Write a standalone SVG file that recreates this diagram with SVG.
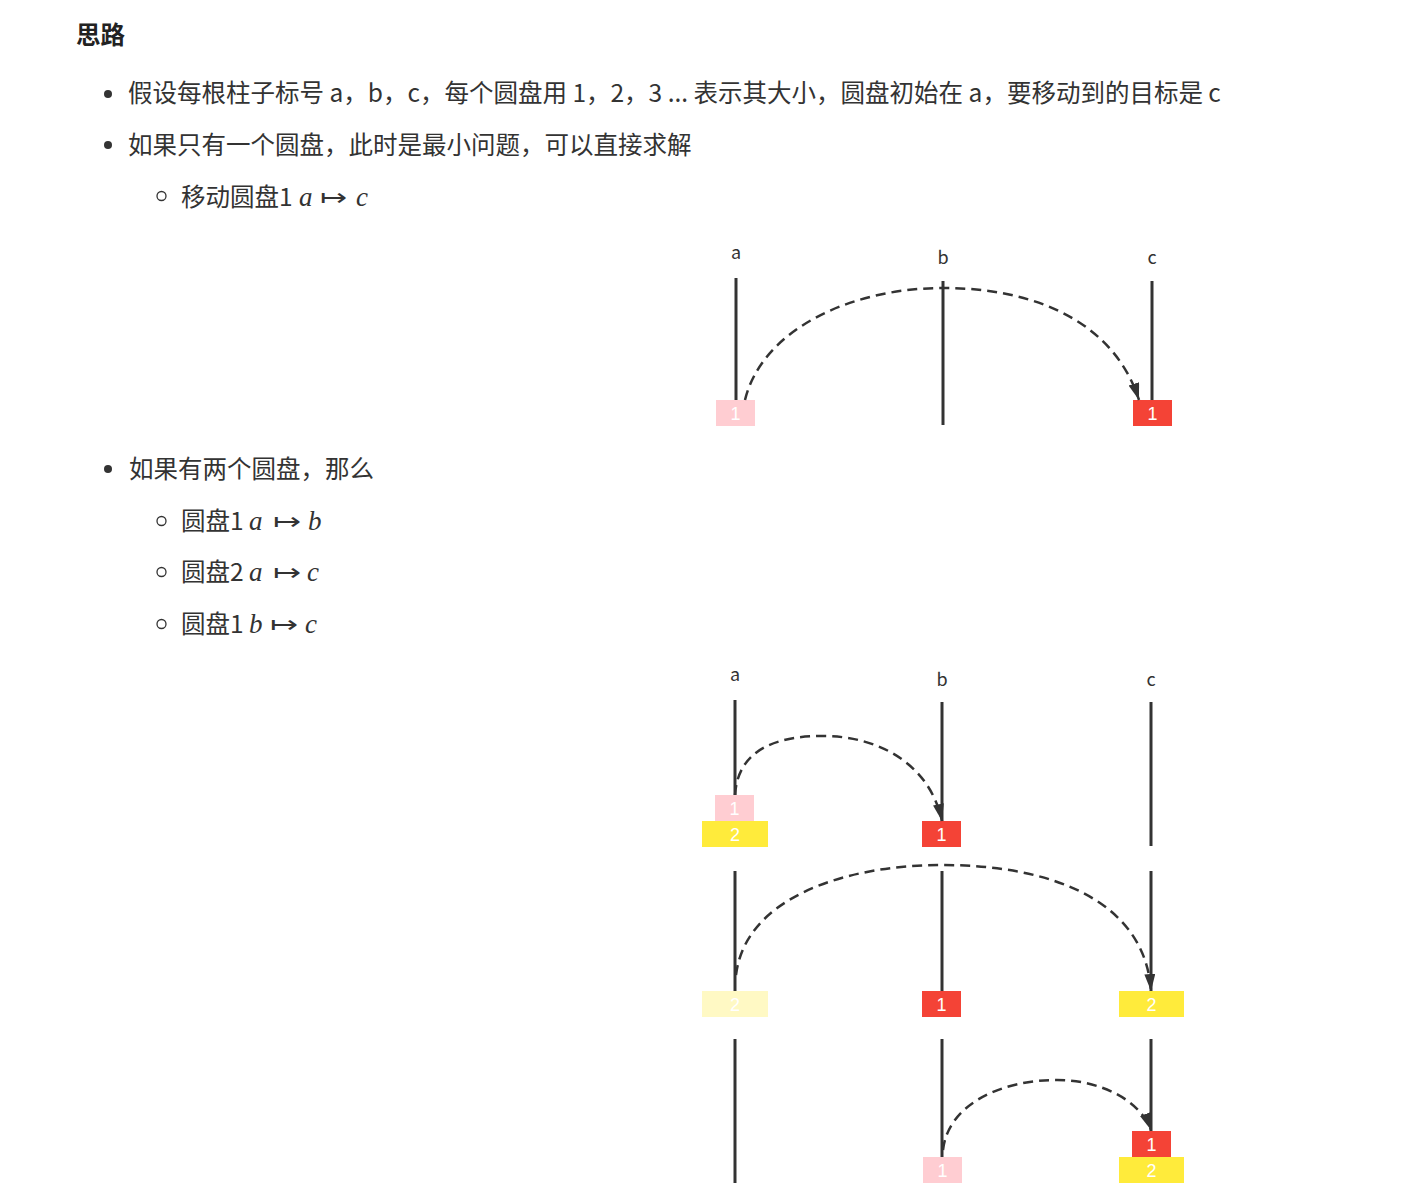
<svg xmlns="http://www.w3.org/2000/svg" width="1403" height="1200" viewBox="0 0 1403 1200">
<style>
.t{font-family:"Noto Sans CJK SC","Liberation Sans",sans-serif;font-size:24.5px;fill:#333}
.h{font-family:"Noto Sans CJK SC","Liberation Sans",sans-serif;font-size:24.5px;font-weight:bold;fill:#222}
.m{font-family:"Liberation Serif","DejaVu Serif",serif;font-style:italic;font-size:27px}
.ar{font-family:"DejaVu Sans ExtraLight","DejaVu Sans",sans-serif;font-style:normal;font-weight:200;font-size:24px}
.lbl{font-family:"Noto Sans CJK SC","Liberation Sans",sans-serif;font-size:18px;fill:#333;text-anchor:middle}
.pole{stroke:#333;stroke-width:3;fill:none}
.dn{font-family:"Liberation Sans",sans-serif;font-size:18px;fill:#fff;text-anchor:middle}
.pink{fill:#FFCDD2}.red{fill:#F44336}.yel{fill:#FFEB3B}.ly{fill:#FFF9C4}
.mv{stroke:#333;stroke-width:2.5;fill:none;stroke-dasharray:10,6;marker-end:url(#ah)}
.dot{fill:#333}.ring{fill:none;stroke:#333;stroke-width:1.3}
</style>
<defs>
<marker id="ah" markerUnits="userSpaceOnUse" markerWidth="20" markerHeight="14" refX="17" refY="5.5" orient="auto">
<path d="M0,0 L17,5.5 L0,11 z" fill="#333"/>
</marker>
</defs>
<rect width="1403" height="1200" fill="#fff"/>
<g id="text">
<text class="h" x="76" y="44">思路</text>
<circle class="dot" cx="108" cy="94" r="4"/>
<text class="t" x="128" y="102">假设每根柱子标号 a，b，c，每个圆盘用 1，2，3 ... 表示其大小，圆盘初始在 a，要移动到的目标是 c</text>
<circle class="dot" cx="108" cy="145" r="4"/>
<text class="t" x="128" y="154">如果只有一个圆盘，此时是最小问题，可以直接求解</text>
<circle class="ring" cx="161.5" cy="196" r="4.5"/>
<text class="t" x="181" y="206">移动圆盘1<tspan class="m" x="299">a</tspan><tspan class="ar" x="320" textLength="27" lengthAdjust="spacingAndGlyphs">↦</tspan><tspan class="m" x="356">c</tspan></text>
<circle class="dot" cx="108" cy="469" r="4"/>
<text class="t" x="129" y="478">如果有两个圆盘，那么</text>
<circle class="ring" cx="161.5" cy="521" r="4.5"/>
<text class="t" x="181" y="530">圆盘1<tspan class="m" x="249">a</tspan><tspan class="ar" x="273" textLength="28" lengthAdjust="spacingAndGlyphs">↦</tspan><tspan class="m" x="308">b</tspan></text>
<circle class="ring" cx="161.5" cy="572" r="4.5"/>
<text class="t" x="181" y="581">圆盘2<tspan class="m" x="249">a</tspan><tspan class="ar" x="273" textLength="28" lengthAdjust="spacingAndGlyphs">↦</tspan><tspan class="m" x="307">c</tspan></text>
<circle class="ring" cx="161.5" cy="624" r="4.5"/>
<text class="t" x="181" y="633">圆盘1<tspan class="m" x="249">b</tspan><tspan class="ar" x="270" textLength="28" lengthAdjust="spacingAndGlyphs">↦</tspan><tspan class="m" x="305">c</tspan></text>
</g>
<g id="diagram1">
<text class="lbl" x="736" y="259">a</text>
<text class="lbl" x="943" y="264">b</text>
<text class="lbl" x="1152" y="264">c</text>
<line class="pole" x1="736" y1="278" x2="736" y2="400"/>
<line class="pole" x1="943" y1="281" x2="943" y2="425"/>
<line class="pole" x1="1152" y1="281" x2="1152" y2="400"/>
<g id="d1-a1"><rect class="pink" x="716" y="400" width="39" height="26"/><text class="dn" x="735.5" y="419.5">1</text></g>
<g id="d1-c1"><rect class="red" x="1133" y="400" width="39" height="26"/><text class="dn" x="1152.5" y="419.5">1</text></g>
</g>
<g id="diagram2">
<text class="lbl" x="735" y="681">a</text>
<text class="lbl" x="942" y="686">b</text>
<text class="lbl" x="1151" y="686">c</text>
<line class="pole" x1="735" y1="700" x2="735" y2="795"/>
<line class="pole" x1="942" y1="702" x2="942" y2="821"/>
<line class="pole" x1="1151" y1="702" x2="1151" y2="846"/>
<g id="d2-a1"><rect class="pink" x="715" y="795" width="39" height="26"/><text class="dn" x="734.5" y="814.5">1</text></g>
<g id="d2-a2"><rect class="yel" x="702" y="821" width="66" height="26"/><text class="dn" x="735" y="840.5">2</text></g>
<g id="d2-b1"><rect class="red" x="922" y="821" width="39" height="26"/><text class="dn" x="941.5" y="840.5">1</text></g>
</g>
<g id="diagram3">
<line class="pole" x1="735" y1="871" x2="735" y2="991"/>
<line class="pole" x1="942" y1="871" x2="942" y2="991"/>
<line class="pole" x1="1151" y1="871" x2="1151" y2="991"/>
<g id="d3-a2"><rect class="ly" x="702" y="991" width="66" height="26"/><text class="dn" x="735" y="1010.5">2</text></g>
<g id="d3-b1"><rect class="red" x="922" y="991" width="39" height="26"/><text class="dn" x="941.5" y="1010.5">1</text></g>
<g id="d3-c2"><rect class="yel" x="1119" y="991" width="65" height="26"/><text class="dn" x="1151.5" y="1010.5">2</text></g>
</g>
<g id="diagram4">
<line class="pole" x1="735" y1="1039" x2="735" y2="1183"/>
<line class="pole" x1="942" y1="1039" x2="942" y2="1157"/>
<line class="pole" x1="1151" y1="1039" x2="1151" y2="1131"/>
<g id="d4-b1"><rect class="pink" x="923" y="1157" width="39" height="26"/><text class="dn" x="942.5" y="1176.5">1</text></g>
<g id="d4-c1"><rect class="red" x="1132" y="1131" width="39" height="26"/><text class="dn" x="1151.5" y="1150.5">1</text></g>
<g id="d4-c2"><rect class="yel" x="1119" y="1157" width="65" height="26"/><text class="dn" x="1151.5" y="1176.5">2</text></g>
</g>
<g id="connectors">
<path class="mv" d="M745,400 C762,330 850,288 943,288 C1040,288 1115,325 1139,400"/>
<path class="mv" d="M735,795 C738,750 775,736 823,736 C880,736 930,765 942,821"/>
<path class="mv" d="M736,975 C745,900 840,865 943,865 C1050,865 1145,900 1151,991"/>
<path class="mv" d="M943,1150 C948,1105 1000,1080 1057,1080 C1100,1080 1140,1100 1151,1130"/>
</g>
</svg>
